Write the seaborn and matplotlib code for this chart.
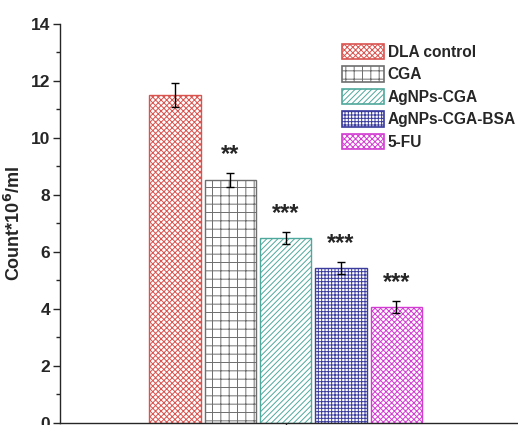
import numpy as np
import pandas as pd
import matplotlib
matplotlib.use("Agg")
import matplotlib.pyplot as plt
import seaborn as sns
from matplotlib.patches import Patch

# Datos
grupos = ["DLA control", "CGA", "AgNPs-CGA", "AgNPs-CGA-BSA", "5-FU"]
conteo = [11.5, 8.53, 6.48, 5.43, 4.06]
error = [0.42, 0.24, 0.22, 0.22, 0.22]
signif = ["", "**", "***", "***", "***"]

colores = ["#d9534f", "#6e6e6e", "#4fa89c", "#3b3b9e", "#d23cd2"]
tramas = ["xxxxxx", "++", "//////", "+++++", "xxxxxx"]

sns.set_style("ticks")
plt.rcParams["font.family"] = ["Liberation Sans", "DejaVu Sans"]
plt.rcParams["font.weight"] = "bold"
plt.rcParams["hatch.linewidth"] = 0.7

df = pd.DataFrame({"grupo": grupos, "conteo": conteo})

fig = plt.figure(figsize=(5.18, 4.25), dpi=100)
ax = fig.add_axes([0.116, 0.005, 0.884, 0.939])

sns.barplot(data=df, x="grupo", y="conteo", hue="grupo", order=grupos,
            hue_order=grupos, palette=["white"] * 5, width=0.93,
            legend=False, ax=ax, zorder=2)

for p, c, h in zip(ax.patches, colores, tramas):
    p.set_facecolor("white")
    p.set_edgecolor(c)
    p.set_hatch(h)
    p.set_linewidth(1.0)

x = np.arange(len(grupos))
ax.errorbar(x, conteo, yerr=error, fmt="none", ecolor="black",
            elinewidth=1.0, capsize=3, capthick=1.0, zorder=3)

for xi, v, e, s in zip(x, conteo, error, signif):
    if s:
        ax.text(xi, v + e + 0.65, s, ha="center", va="center",
                fontsize=17, fontweight="bold")

ax.set_ylim(0, 14)
ax.set_xlim(-2.08, 6.2)
ax.set_yticks(range(0, 15, 2))
ax.set_yticks(range(1, 14, 2), minor=True)
ax.set_xticks([2])
ax.set_xticklabels([""])
ax.tick_params(axis="y", which="major", length=5, width=1, labelsize=12.5,
               pad=2)
ax.tick_params(axis="y", which="minor", length=3, width=1)
ax.tick_params(axis="x", length=4, width=1)
for lab in ax.get_yticklabels():
    lab.set_fontweight("bold")
ax.set_xlabel("")
ax.set_ylabel("Count*10$^{\\mathbf{6}}$/ml", fontsize=13, fontweight="bold",
              labelpad=5)
sns.despine(ax=ax)
ax.spines["left"].set_linewidth(1.0)
ax.spines["bottom"].set_linewidth(1.0)

handles = [Patch(facecolor="white", edgecolor=c, hatch=h, linewidth=1.2)
           for c, h in zip(colores, tramas)]
ax.legend(handles, grupos, loc="upper left", bbox_to_anchor=(0.615, 0.95),
          frameon=False, fontsize=11.2, handlelength=2.7, handleheight=1.15,
          labelspacing=0.42, handletextpad=0.25, borderaxespad=0,
          borderpad=0)

fig.savefig("out.png", dpi=100)
